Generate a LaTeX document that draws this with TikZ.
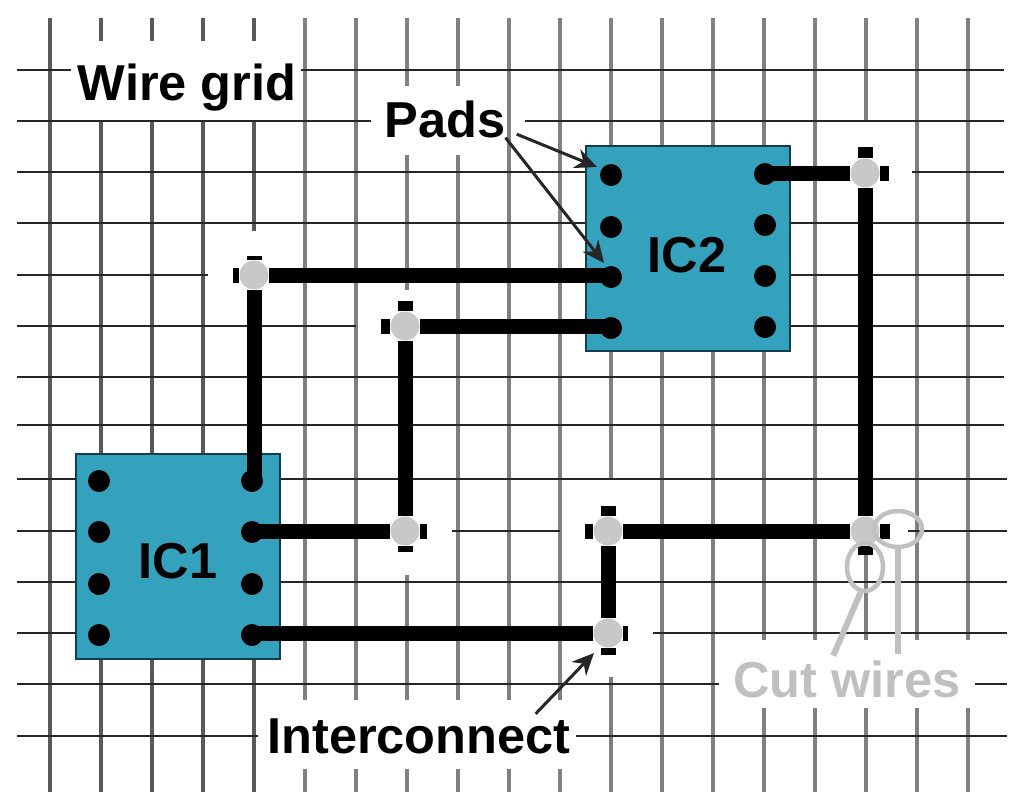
\documentclass[tikz,border=0pt]{standalone}
\usepackage{fontspec}
\setmainfont{Liberation Sans}
\usetikzlibrary{shapes.geometric,arrows.meta}
\definecolor{icblue}{HTML}{35A2BD}
\definecolor{icedge}{HTML}{123F4F}
\definecolor{viagray}{HTML}{C8C8C8}
\definecolor{cutgray}{HTML}{C0C0C0}
\tikzset{
	hwire/.style={draw=black!85,line width=2.6pt},
	vwire/.style={draw=black!50,line width=4pt},
	vwirethin/.style={draw=black!65,line width=3.2pt},
	icbox/.style={draw=icedge,fill=icblue,line width=2pt,minimum width=204pt,minimum height=205pt,inner sep=0pt},
	pad/.style={circle,fill=black,minimum size=22pt,inner sep=0pt},
	via/.style={circle,fill=viagray,minimum size=29pt,inner sep=0pt},
	route/.style={draw=black,line width=15pt},
	stub/.style={draw=black,line width=15pt},
	lbl/.style={inner sep=0pt,anchor=base,font=\fontsize{50.5}{50.5}\selectfont\bfseries},
	pointer/.style={draw=black!85,line width=3pt,-{Stealth[length=22pt,width=20pt]}},
	cutring/.style={ellipse,draw=cutgray,line width=4.5pt,inner sep=0pt},
	cutline/.style={draw=cutgray,line width=6pt},
}
\begin{document}
\begin{tikzpicture}[x=1pt,y=-1pt]
	\useasboundingbox (0,0) rectangle (1024,809);
	% wire grid
	\foreach \x/\ya/\yb in {50/18/792,101/18/41,101/122/792,152/18/41,152/122/792,203/18/41,203/122/792,254/18/41,254/122/231,254/300/792}
		\draw[vwirethin] (\x,\ya) -- (\x,\yb);
	\foreach \x/\ya/\yb in {305/18/700,305/769/792,356/18/700,356/769/792,407/18/86,407/155/290,407/575/700,407/769/792,458/18/86,458/155/700,458/769/792,
		509/18/700,509/769/792,560/18/700,560/769/792,611/18/480,611/677/792,662/18/792,713/18/792,764/18/640,764/708/792,
		815/18/640,815/708/792,866/18/121,866/555/640,866/708/792,917/18/640,917/708/792,968/18/640,968/708/792}
		\draw[vwire] (\x,\ya) -- (\x,\yb);
	\foreach \y/\xa/\xb in {70/17/71,70/301/1004,121/17/371,121/525/1004,172/17/600,172/912/1004,223/17/1004,275/17/208,275/700/1004,
		326/17/356,326/700/1004,377/17/1004,425/17/1004,479/17/1007,531/17/150,531/452/560,531/908/1007,582/17/1007,633/17/150,633/653/1007,
		684/17/719,684/975/1007,736/17/258,736/576/1007}
		\draw[hwire] (\xa,\y) -- (\xb,\y);
	% chips
	\node[icbox] (icone) at (177.5,556) {};
	\node[icbox] (ictwo) at (687.5,248.5) {};
	\node[lbl] (lblicone) at (178,578) {IC1};
	\node[lbl] (lblictwo) at (687,272) {IC2};
	% pads
	\foreach \n/\x/\y in {a/99/481,b/99/532,c/99/584,d/99/635,e/252/481,f/252/532,g/252/584,h/252/635,
		i/611/175,j/611/227,k/611/277,l/611/328,m/765/174,n/765/225,o/765/276,p/765/327}
		\node[pad] (pad\n) at (\x,\y) {};
	% vias
	\node[via] (viaa) at (254,275) {};
	\node[via] (viab) at (405,326) {};
	\node[via] (viac) at (405,531) {};
	\node[via] (viad) at (608,531) {};
	\node[via] (viae) at (608,633) {};
	\node[via] (viaf) at (865,531) {};
	\node[via] (viag) at (865,173) {};
	% routes
	\draw[route] (viaa.south) -- (viaa.south |- pade);
	\draw[route] (viaa.east) -- (viaa.east -| padk);
	\draw[route] (viac.west) -- (viac.west -| padf);
	\draw[route] (viac.north) -- (viab.south);
	\draw[route] (viab.east) -- (viab.east -| padl);
	\draw[route] (viae.west) -- (viae.west -| padh);
	\draw[route] (viae.north) -- (viad.south);
	\draw[route] (viad.east) -- (viaf.west);
	\draw[route] (viaf.north) -- (viag.south);
	\draw[route] (viag.west) -- (viag.west -| padm);
	% stubs past the vias
	\draw[stub] (viaa.west) -- ++(-6,0);
	\draw[stub] (viaa.north) -- ++(0,-4);
	\draw[stub] (viab.west) -- ++(-9,0);
	\draw[stub] (viab.north) -- ++(0,-10);
	\draw[stub] (viac.east) -- ++(7,0);
	\draw[stub] (viac.south) -- ++(0,6);
	\draw[stub] (viad.west) -- ++(-8,0);
	\draw[stub] (viad.north) -- ++(0,-10);
	\draw[stub] (viae.east) -- ++(5,0);
	\draw[stub] (viae.south) -- ++(0,7);
	\draw[stub] (viaf.east) -- ++(10,0);
	\draw[stub] (viaf.south) -- ++(0,9);
	\draw[stub] (viag.east) -- ++(9,0);
	\draw[stub] (viag.north) -- ++(0,-11);
	% labels
	\node[lbl] (lblgrid) at (187,100) {Wire grid};
	\node[lbl] (lblpads) at (445,137) {Pads};
	\node[lbl] (lblinter) at (419,753) {Interconnect};
	\node[lbl,text=cutgray] (lblcut) at (847,697) {Cut wires};
	% arrows
	\coordinate (tipa) at (597,167);
	\coordinate (tipb) at (604,263);
	\coordinate (tipc) at (594,653);
	\draw[pointer,shorten <=12pt] (lblpads.-10) -- (tipa);
	\draw[pointer] (lblpads.south east) -- (tipb);
	\draw[pointer,shorten <=6pt] (lblinter.9) -- (tipc);
	% cuts
	\node[cutring,minimum width=48pt,minimum height=36pt] (cuta) at (898,529) {};
	\node[cutring,minimum width=36pt,minimum height=48pt] (cutb) at (865,567) {};
	\draw[cutline,shorten >=5pt] (cutb.-100) -- (lblcut.130);
	\draw[cutline,shorten >=6pt] (cuta.south) -- (cuta.south |- lblcut.north);
\end{tikzpicture}
\end{document}
